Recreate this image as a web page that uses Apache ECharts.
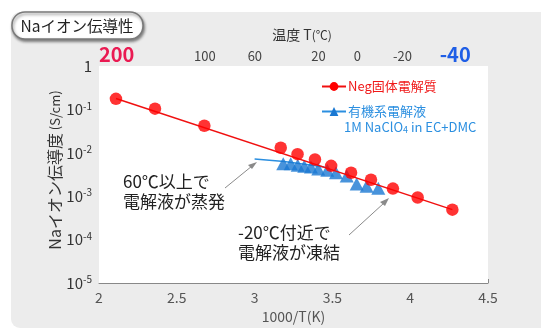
<!DOCTYPE html>
<html>
<head>
<meta charset="utf-8">
<script src="https://cdn.jsdelivr.net/npm/echarts@6/dist/echarts.min.js"></script>
<style>
html,body{margin:0;padding:0;background:#fff;}
#c{width:541px;height:329px;}
</style>
</head>
<body>
<div id="c"></div>
<script>
// ---- data ----
const negX = [2.109, 2.36, 2.677, 3.168, 3.276, 3.388, 3.492, 3.620, 3.748, 3.889, 4.048, 4.271];
const negY = [0.175, 0.104, 0.042, 0.0131, 0.0093, 0.0070, 0.0050, 0.00347, 0.00239, 0.00150, 0.000935, 0.000489];
const negFitX = [2.109, 4.271];
const negFitY = [0.178, 0.00049];
const eleX = [3.184, 3.232, 3.277, 3.319, 3.362, 3.409, 3.467, 3.523, 3.592, 3.656, 3.720, 3.795];
const eleY = [0.00561, 0.00561, 0.00514, 0.00489, 0.00471, 0.00426, 0.00398, 0.00347, 0.00293, 0.00191, 0.00169, 0.00153];
const eleLineX = [3.0, 3.19, 3.45];
const eleLineY = [0.0072, 0.0063, 0.0047];
const tempLabels = [200, 100, 60, 20, 0, -20, -40];
const xTicks = [2, 2.5, 3, 3.5, 4, 4.5];
const yExps = [0, -1, -2, -3, -4, -5];

const zip = (a, b) => a.map((v, i) => [v, b[i]]);
const tempPos = tempLabels.map(t => 1000 / (t + 273.15));
const FONT = '"Noto Sans CJK JP", "Noto Sans", sans-serif';
const RED = '#ff0000';
const BLUE = '#1a78d2';

const chart = echarts.init(document.getElementById('c'), null, {renderer: 'canvas'});
chart.setOption({
  animation: false,
  backgroundColor: '#ffffff',
  textStyle: {fontFamily: FONT},
  grid: {left: 99, right: 53, top: 66, bottom: 38, show: true, backgroundColor: '#ffffff', borderWidth: 0, z: 1},
  graphic: [
    {type: 'rect', z: -10, shape: {x: 11, y: 12, width: 560, height: 316, r: 9}, style: {fill: '#ececec'}},
    {type: 'group', z: 100, children: [
      {type: 'rect', shape: {x: 12, y: 12, width: 131, height: 27, r: 13},
       style: {fill: '#ffffff', stroke: '#7a7a7a', lineWidth: 1.5, shadowBlur: 3, shadowOffsetX: 1, shadowOffsetY: 2, shadowColor: 'rgba(0,0,0,0.45)'}},
      {type: 'text', style: {x: 77, y: 26, text: 'Naイオン伝導性', align: 'center', verticalAlign: 'middle', fontSize: 15.5, fontFamily: FONT, fill: '#222'}}
    ]},
    {type: 'text', z: 100, style: {x: 302, y: 35, text: '{a|温度 T}{b|(℃)}', align: 'center', verticalAlign: 'middle', fontFamily: FONT,
      rich: {a: {fontSize: 14, fill: '#333', fontFamily: FONT}, b: {fontSize: 12, fill: '#333', fontFamily: FONT}}}},
    {type: 'text', z: 100, rotation: Math.PI / 2, x: 55, y: 170, style: {x: 0, y: 0, text: '{a|Naイオン伝導度}{b| (S/cm)}', align: 'center', verticalAlign: 'middle', fontFamily: FONT,
      rich: {a: {fontSize: 16, fill: '#333', fontFamily: FONT}, b: {fontSize: 13, fill: '#333', fontFamily: FONT}}}},
    {type: 'text', z: 100, style: {x: 344, y: 127, text: '1M NaClO{s|4} in EC+DMC', verticalAlign: 'middle', fontSize: 13, fontFamily: FONT, fill: '#2b8fe0',
      rich: {s: {fontSize: 9, fill: '#2b8fe0', verticalAlign: 'bottom', padding: [6, 0, 0, 0], fontFamily: FONT}}}},
    {type: 'text', z: 100, style: {x: 123, y: 192, text: '60℃以上で\n電解液が蒸発', verticalAlign: 'middle', fontSize: 17, lineHeight: 20, fontFamily: FONT, fill: '#222'}},
    {type: 'text', z: 100, style: {x: 238, y: 243, text: '-20℃付近で\n電解液が凍結', verticalAlign: 'middle', fontSize: 17, lineHeight: 20, fontFamily: FONT, fill: '#222'}},
    {type: 'line', z: 100, shape: {x1: 225, y1: 188, x2: 252, y2: 166}, style: {stroke: '#8a8a8a', lineWidth: 1}},
    {type: 'polygon', z: 100, shape: {points: [[257, 162], [248, 165], [252, 169]]}, style: {fill: '#8a8a8a'}},
    {type: 'line', z: 100, shape: {x1: 349, y1: 235, x2: 384, y2: 203}, style: {stroke: '#8a8a8a', lineWidth: 1}},
    {type: 'polygon', z: 100, shape: {points: [[389, 198], [380, 202], [385, 206]]}, style: {fill: '#8a8a8a'}}
  ],
  legend: {
    orient: 'vertical', left: 316, top: 75, itemGap: 12, itemWidth: 24, itemHeight: 11,
    data: [
      {name: 'Neg固体電解質', textStyle: {color: '#f01818'}},
      {name: '有機系電解液', textStyle: {color: '#2b8fe0'}}
    ],
    textStyle: {fontSize: 13, fontFamily: FONT, padding: [0, 0, 0, -3]}
  },
  xAxis: [
    {type: 'value', position: 'bottom', min: 2, max: 4.5, interval: 0.5,
     axisLine: {show: true, lineStyle: {color: '#888', width: 1}},
     axisTick: {show: true, inside: true, length: 4, lineStyle: {color: '#888'}},
     splitLine: {show: false},
     axisLabel: {fontSize: 14, color: '#555', margin: 8, fontFamily: FONT,
       formatter: v => (xTicks.indexOf(v) >= 0 ? String(v) : '')},
     name: '1000/T(K)', nameLocation: 'middle', nameGap: 27,
     nameTextStyle: {fontSize: 14, color: '#555', fontFamily: FONT}},
    {type: 'value', position: 'top', min: 2, max: 4.5,
     axisLine: {show: false},
     axisTick: {show: true, inside: true, length: 3, customValues: tempPos, lineStyle: {color: '#888'}},
     splitLine: {show: false},
     axisLabel: {customValues: tempPos, margin: 2, fontFamily: FONT,
       formatter: v => {
         const t = Math.round(1000 / v - 273.15);
         if (t === 200) return '{r|' + t + '}';
         if (t === -40) return '{b|' + t + '}';
         return '{n|' + t + '}';
       },
       rich: {
         r: {fontSize: 20, fontWeight: 'bold', color: '#ea1a52', fontFamily: FONT},
         b: {fontSize: 20, fontWeight: 'bold', color: '#1f5ee6', fontFamily: FONT},
         n: {fontSize: 13, color: '#444', fontFamily: FONT, padding: [0, 0, 1, 0]}
       }}}
  ],
  yAxis: {
    type: 'log', logBase: 10, min: 1e-5, max: 1,
    axisLine: {show: false}, axisTick: {show: false},
    splitLine: {show: true, lineStyle: {color: '#d6d6d6', width: 1}},
    axisLabel: {margin: 7, fontFamily: FONT,
      formatter: v => {
        const e = Math.round(Math.log10(v));
        if (yExps.indexOf(e) < 0) return '';
        return e === 0 ? '{b|1}' : '{b|10}{s|' + e + '}';
      },
      rich: {
        b: {fontSize: 15, color: '#333', fontFamily: FONT},
        s: {fontSize: 10, color: '#333', fontFamily: FONT, verticalAlign: 'top', padding: [0, 0, 7, 0]}
      }}
  },
  series: [
    {name: '有機系電解液', type: 'line', data: zip(eleLineX, eleLineY), symbol: 'triangle', symbolSize: 12, showSymbol: false,
     lineStyle: {color: '#2b8fe0', width: 1.5}, itemStyle: {color: BLUE}, z: 2, silent: true},
    {name: '有機系電解液', type: 'scatter', data: zip(eleX, eleY), symbol: 'triangle', symbolSize: [14, 13],
     itemStyle: {color: BLUE}, z: 3},
    {name: 'Neg固体電解質', type: 'line', data: zip(negFitX, negFitY), symbol: 'circle', symbolSize: 11, showSymbol: false,
     lineStyle: {color: '#f01010', width: 1.5}, itemStyle: {color: RED}, z: 4, silent: true},
    {name: 'Neg固体電解質', type: 'scatter', data: zip(negX, negY), symbol: 'circle', symbolSize: 12.5,
     itemStyle: {color: RED}, z: 5}
  ]
});
</script>
</body>
</html>
